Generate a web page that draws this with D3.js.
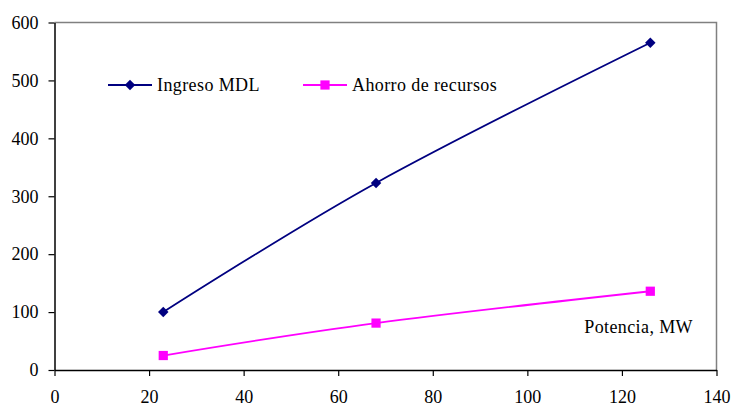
<!DOCTYPE html>
<html>
<head>
<meta charset="utf-8">
<script src="https://cdn.jsdelivr.net/npm/d3@7"></script>
<style>
  body { margin: 0; background: #fff; }
  svg { display: block; }
  text { font-family: "Liberation Serif", "Times New Roman", serif; font-size: 18px; fill: #000; }
  .lbl { letter-spacing: 0.4px; }
</style>
</head>
<body>
<svg id="chart" width="735" height="408"></svg>
<script>
// data
const potencia = [23, 68, 126];
const ingresoMDL = [100, 323, 565];
const ahorroRecursos = [25, 81, 136];
const xTicks = [0, 20, 40, 60, 80, 100, 120, 140];
const yTicks = [0, 100, 200, 300, 400, 500, 600];
const seriesNames = ["Ingreso MDL", "Ahorro de recursos"];
const seriesColors = ["#000080", "#ff00ff"];

const svg = d3.select("#chart");
const plotL = 54.5, plotR = 716.5, plotT = 22.5, plotB = 370;

const x = d3.scaleLinear().domain([0, 140]).range([plotL, plotR]);
const y = d3.scaleLinear().domain([0, 600]).range([plotB, plotT]);

// plot frame: gray top / right
svg.append("path")
    .attr("d", `M${plotL},${plotT}H${plotR}V${plotB}`)
    .attr("fill", "none")
    .attr("stroke", "#808080")
    .attr("stroke-width", 1.5);

// axes
const xAxis = svg.append("g")
    .attr("transform", `translate(0,${plotB})`)
    .call(d3.axisBottom(x).tickValues(xTicks).tickSize(6).tickPadding(14).tickSizeOuter(0));
const yAxis = svg.append("g")
    .attr("transform", `translate(${plotL},0)`)
    .call(d3.axisLeft(y).tickValues(yTicks).tickSize(6).tickPadding(10).tickSizeOuter(0));

[xAxis, yAxis].forEach(g => {
    g.select(".domain").attr("stroke", "#000").attr("stroke-width", 1.5);
    g.selectAll(".tick line").attr("stroke", "#000").attr("stroke-width", 1.2);
    g.selectAll(".tick text")
        .style("font-family", '"Liberation Serif", "Times New Roman", serif')
        .style("font-size", "18px")
        .attr("fill", "#000");
});

const line = d3.line()
    .x(d => x(d[0]))
    .y(d => y(d[1]))
    .curve(d3.curveCatmullRom.alpha(0));

const ingresoPts = potencia.map((p, i) => [p, ingresoMDL[i]]);
const ahorroPts = potencia.map((p, i) => [p, ahorroRecursos[i]]);

svg.append("path")
    .datum(ingresoPts)
    .attr("d", line)
    .attr("fill", "none")
    .attr("stroke", seriesColors[0])
    .attr("stroke-width", 1.8);

svg.append("path")
    .datum(ahorroPts)
    .attr("d", line)
    .attr("fill", "none")
    .attr("stroke", seriesColors[1])
    .attr("stroke-width", 1.8);

const diamond = d3.symbol().type(d3.symbolSquare).size(55);
const square = d3.symbol().type(d3.symbolSquare).size(85);

svg.selectAll(".m-ingreso")
    .data(ingresoPts)
    .join("path")
    .attr("class", "m-ingreso")
    .attr("d", diamond)
    .attr("transform", d => `translate(${x(d[0])},${y(d[1])}) rotate(45)`)
    .attr("fill", seriesColors[0]);

svg.selectAll(".m-ahorro")
    .data(ahorroPts)
    .join("path")
    .attr("class", "m-ahorro")
    .attr("d", square)
    .attr("transform", d => `translate(${x(d[0])},${y(d[1])})`)
    .attr("fill", seriesColors[1]);

// legend
const legendItems = [
    { name: seriesNames[0], color: seriesColors[0], x0: 108, marker: diamond, rot: 45 },
    { name: seriesNames[1], color: seriesColors[1], x0: 303, marker: square, rot: 0 }
];
const ly = 85;
const legend = svg.append("g");
legendItems.forEach(it => {
    legend.append("line")
        .attr("x1", it.x0).attr("x2", it.x0 + 44)
        .attr("y1", ly).attr("y2", ly)
        .attr("stroke", it.color).attr("stroke-width", 1.8);
    legend.append("path")
        .attr("d", it.marker)
        .attr("transform", `translate(${it.x0 + 22},${ly}) rotate(${it.rot})`)
        .attr("fill", it.color);
    legend.append("text")
        .attr("class", "lbl")
        .attr("x", it.x0 + 49)
        .attr("y", ly + 6)
        .text(it.name);
});

// axis title inside plot
svg.append("text")
    .attr("class", "lbl")
    .attr("x", 693)
    .attr("y", 333)
    .attr("text-anchor", "end")
    .text("Potencia, MW");
</script>
</body>
</html>
